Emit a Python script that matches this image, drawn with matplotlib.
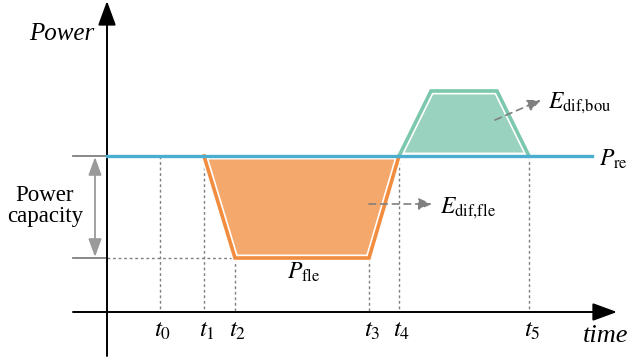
import matplotlib.pyplot as plt

plt.rcParams['mathtext.fontset'] = 'stix'
plt.rcParams['font.family'] = 'Liberation Serif'

# time marks (pixel-like units along the time axis)
t_names = ['$t_0$', '$t_1$', '$t_2$', '$t_3$', '$t_4$', '$t_5$']
t_pos = [160, 204, 235, 369, 399, 529]
# where each dotted guide starts (power level)
t_level = [156, 156, 258, 258, 156, 156]

# power levels (y grows downward)
p_re = 156
p_fle = 258
p_bou = 91
bou_top = [431, 497]

x_axis_y = 312
y_axis_x = 107

blue = '#4aaed0'
orange_line = '#f28c3f'
orange_fill = '#f5a86b'
green_line = '#7cc8ac'
green_fill = '#99d3bf'
gray = '#7f7f7f'

fig = plt.figure(figsize=(6.28, 3.6), dpi=100)
ax = fig.add_axes([0, 0, 1, 1])
ax.set_xlim(0, 628)
ax.set_ylim(360, 0)
ax.axis('off')

# axes with arrow heads
ax.annotate('', xy=(y_axis_x, 1), xytext=(y_axis_x, 356),
            arrowprops=dict(arrowstyle='-|>,head_length=1.5,head_width=0.55',
                            color='black', lw=1.4, shrinkA=0, shrinkB=0))
ax.annotate('', xy=(617, x_axis_y), xytext=(73, x_axis_y),
            arrowprops=dict(arrowstyle='-|>,head_length=1.5,head_width=0.55',
                            color='black', lw=1.4, shrinkA=0, shrinkB=0))

# dotted guides
for tp, lv in zip(t_pos, t_level):
    ax.plot([tp, tp], [lv, x_axis_y], color=gray, lw=1.0, ls=(0, (2, 2)), zorder=1)
ax.plot([y_axis_x, t_pos[2]], [p_fle, p_fle], color=gray, lw=1.0, ls=(0, (2, 2)), zorder=1)

# orange area (flexible load)
ox = [t_pos[1], t_pos[2], t_pos[3], t_pos[4]]
oy = [p_re, p_fle, p_fle, p_re]
ax.fill(ox, oy, facecolor=orange_fill, edgecolor='white', lw=5, zorder=2)
ax.plot(ox, oy, color=orange_line, lw=2.6, zorder=3, solid_joinstyle='miter')

# green area (bounded)
gx = [t_pos[4], bou_top[0], bou_top[1], t_pos[5]]
gy = [p_re, p_bou, p_bou, p_re]
ax.fill(gx, gy, facecolor=green_fill, edgecolor='white', lw=5, zorder=2)
ax.plot(gx, gy, color=green_line, lw=2.6, zorder=3, solid_joinstyle='miter')

# reference power line
ax.plot([y_axis_x, 592], [p_re, p_re], color=blue, lw=2.4, zorder=4)

# power capacity bracket
ax.plot([73, y_axis_x], [p_re, p_re], color=gray, lw=1.3, zorder=1)
ax.plot([73, y_axis_x], [p_fle, p_fle], color=gray, lw=1.3, zorder=1)
ax.annotate('', xy=(95, p_re + 1), xytext=(95, p_fle - 1),
            arrowprops=dict(arrowstyle='<|-|>,head_length=1.1,head_width=0.4',
                            color='#9a9a9a', lw=1.3, shrinkA=0, shrinkB=0))
ax.text(45, 206, 'Power\ncapacity', fontsize=16.5, ha='center', va='center',
        linespacing=1.05)

# labels
ax.text(62, 34, 'Power', fontsize=18, style='italic', ha='center', va='center')
ax.text(606, 336, 'time', fontsize=19, style='italic', ha='center', va='center')
for name, tp in zip(t_names, t_pos):
    ax.text(tp + 3, 331, name, fontsize=18, ha='center', va='center')

ax.text(613, 159, r'$P_{\mathrm{re}}$', fontsize=17, ha='center', va='center')
ax.text(304, 272, r'$P_{\mathrm{fle}}$', fontsize=17, ha='center', va='center')
ax.text(468, 208, r'$E_{\mathrm{dif{,}fle}}$', fontsize=17, ha='center', va='center')
ax.text(580, 103, r'$E_{\mathrm{dif{,}bou}}$', fontsize=17, ha='center', va='center')

ax.annotate('', xy=(432, 204), xytext=(369, 204),
            arrowprops=dict(arrowstyle='-|>,head_length=0.8,head_width=0.35',
                            color=gray, lw=1.2, ls=(0, (4, 3)), shrinkA=0, shrinkB=0),
            zorder=5)
ax.annotate('', xy=(541, 100), xytext=(495, 120),
            arrowprops=dict(arrowstyle='-|>,head_length=0.8,head_width=0.35',
                            color=gray, lw=1.2, ls=(0, (4, 3)), shrinkA=0, shrinkB=0),
            zorder=5)

fig.savefig('out.png', dpi=100)
